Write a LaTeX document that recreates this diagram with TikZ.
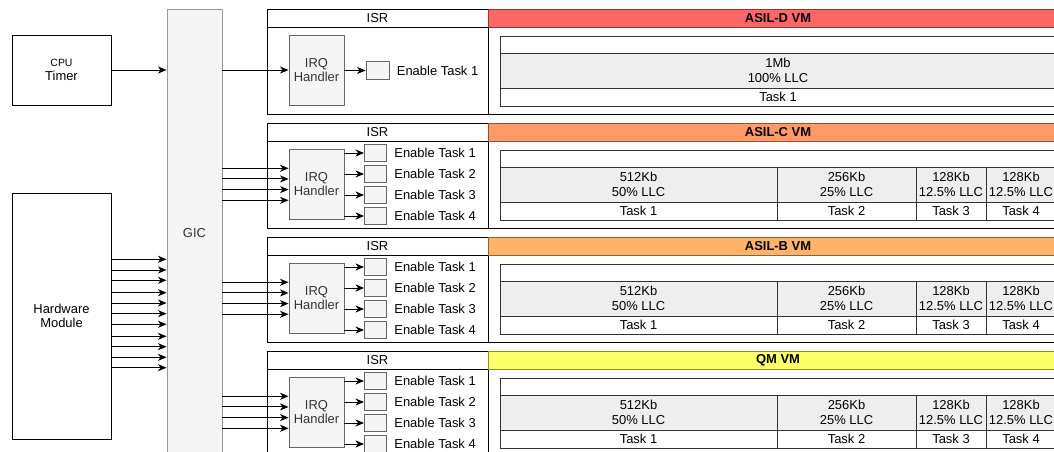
\documentclass[tikz,border=0pt]{standalone}
\usepackage{fontspec}
\setmainfont{Liberation Sans}
\usepackage{xcolor}
\usetikzlibrary{positioning,arrows.meta}
\definecolor{asild}{HTML}{FF6666}
\definecolor{asilc}{HTML}{FF9966}
\definecolor{asilb}{HTML}{FFB366}
\definecolor{qm}{HTML}{FFFF66}
\definecolor{lightbg}{HTML}{F5F5F5}
\definecolor{cellgray}{HTML}{EEEEEE}

\begin{document}
\begin{tikzpicture}[x=1bp, y=-1bp, line width=0.9bp,
  font=\fontsize{13}{14.5}\selectfont,
  box/.style={draw, inner sep=0pt, align=center},
  gbox/.style={draw=black!60, fill=lightbg, inner sep=0pt, align=center, text=black!80},
  hdr/.style={draw, inner sep=0pt, minimum height=18bp},
  cell/.style={draw=black!80, inner sep=0pt, align=center},
  arr/.style={-{Stealth[length=8.5bp,width=7bp,inset=2.5bp]}}]
\useasboundingbox (0,0) rectangle (1054,452);
\clip (0,0) rectangle (1054,452);
% sources
\node[box, minimum width=99bp, minimum height=70bp] (timer) at (61.5,70)
  {{\fontsize{10.5}{12.5}\selectfont CPU}\\Timer};
\node[box, minimum width=99bp, minimum height=246bp] (hw) at (61.5,316) {Hardware\\Module};
\node[gbox, draw=black!40, minimum width=55bp, minimum height=448bp] (gic) at (194.5,233) {GIC};
\draw[arr] (timer.east) -- (gic.west |- timer.east);
\foreach \y in {259.3,270,280.3,292.7,303,313.7,324.3,336.3,346.7,357.3,367.7}
  \draw[arr] (hw.east |- 0,\y) -- (gic.west |- 0,\y);
% VM blocks
\foreach \k/\vm/\col [evaluate=\k as \T using 9+114*(\k-1)] in
  {1/ASIL-D VM/asild, 2/ASIL-C VM/asilc, 3/ASIL-B VM/asilb, 4/QM VM/qm} {
  \node[box, minimum width=221bp, minimum height=87bp] (isrb\k) at (377.5,\T+61.5) {};
  \node[box, minimum width=580bp, minimum height=87bp] (vmb\k) at (778,\T+61.5) {};
  \node[hdr, minimum width=221bp] (isr\k) at (377.5,\T+9) {ISR};
  \node[hdr, fill=\col, draw=\col!55!black, minimum width=580bp, font=\fontsize{13}{14.5}\selectfont\bfseries]
    (vmh\k) at (778,\T+9) {\vm};
  \node[gbox, minimum width=55bp, minimum height=70bp] (irq\k) at (316.5,\T+61) {IRQ\\Handler};
  \node[cell, minimum width=556bp, minimum height=17bp] (top\k) at (778,\T+35.5) {};
}
% block 1
\node[gbox, minimum width=23bp, minimum height=17.5bp] (en11) at (377.5,70.5) {};
\node[right=7bp of en11, inner sep=0pt] (et11) {Enable Task 1};
\draw[arr] (gic.east |- irq1.west) -- (irq1.west);
\draw[arr] (irq1.east |- en11) -- (en11.west);
\node[cell, fill=cellgray, minimum width=556bp, minimum height=35bp] (c11) at (778,70.5) {1Mb\\100\% LLC};
\node[cell, minimum width=556bp, minimum height=18bp] (t11) at (778,97) {Task 1};
% blocks 2 to 4
\foreach \k [evaluate=\k as \T using 9+114*(\k-1)] in {2,3,4} {
  \foreach \i in {1,...,4} {
    \node[gbox, minimum width=22bp, minimum height=17.5bp] (en\k\i) at (375.5,\T+9+21*\i) {};
    \node[right=7bp of en\k\i, inner sep=0pt] (et\k\i) {Enable Task \i};
    \draw[arr] (irq\k.east |- en\k\i) -- (en\k\i.west);
    \draw[arr] (gic.east |- 0,\T+34.6+10.67*\i) -- (irq\k.west |- 0,\T+34.6+10.67*\i);
  }
  \foreach \c/\xc/\w/\kb/\pc in {1/638.5/277/512Kb/50, 2/846.5/139/256Kb/25,
      3/951/70/128Kb/12.5, 4/1021/70/128Kb/12.5} {
    \node[cell, fill=cellgray, minimum width=\w bp, minimum height=35bp] (c\k\c) at (\xc,\T+61.5) {\kb\\\pc\% LLC};
    \node[cell, minimum width=\w bp, minimum height=18bp] (t\k\c) at (\xc,\T+88) {Task \c};
  }
}
\end{tikzpicture}
\end{document}
